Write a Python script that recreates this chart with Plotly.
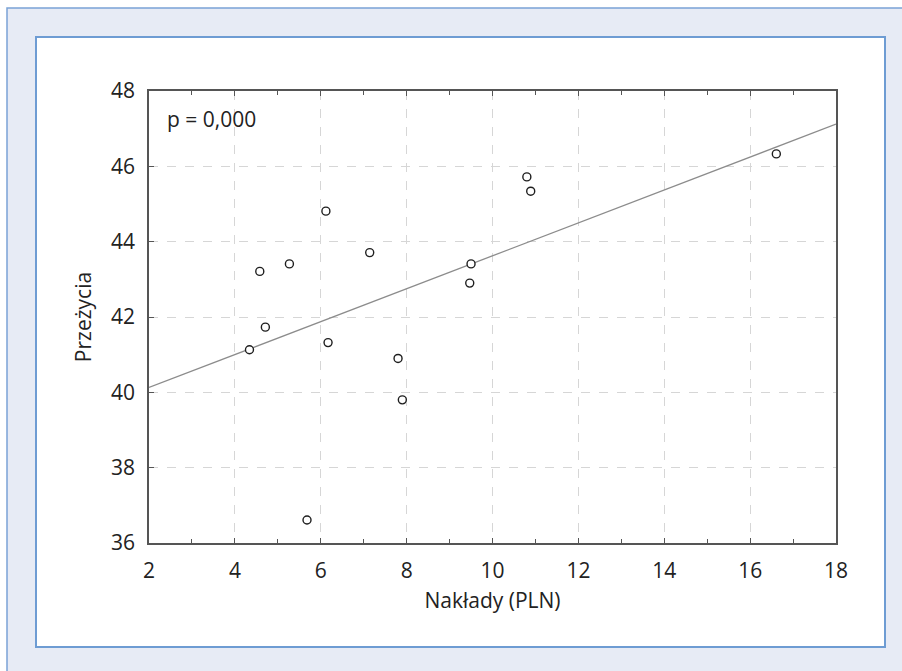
import plotly.graph_objects as go

# Data
naklady = [4.34, 4.58, 4.71, 5.27, 5.68, 6.12, 6.17, 7.14, 7.80, 7.90, 9.47, 9.50, 10.80, 10.89, 16.61]
przezycia = [41.13, 43.21, 41.73, 43.41, 36.61, 44.81, 41.32, 43.71, 40.90, 39.80, 42.90, 43.41, 45.72, 45.34, 46.33]
fit_x = [2, 18]
fit_y = [40.13, 47.12]
x_ticks = [2, 4, 6, 8, 10, 12, 14, 16, 18]
y_ticks = [36, 38, 40, 42, 44, 46, 48]
annotation_text = "p = 0,000"

W, H = 902, 671
FONT = "Open Sans"
FS = 21

def px(x):
    return x / W

def py(y):
    return 1 - y / H

fig = go.Figure()
fig.add_trace(go.Scatter(x=fit_x, y=fit_y, mode="lines",
                         line=dict(color="#8c8c8c", width=1.3),
                         hoverinfo="skip", showlegend=False))
fig.add_trace(go.Scatter(x=naklady, y=przezycia, mode="markers",
                         marker=dict(symbol="circle", size=8, color="white",
                                     line=dict(color="#1e1e1e", width=1.4)),
                         showlegend=False))

axis_common = dict(showline=True, linecolor="#555555", linewidth=1.5,
                   showgrid=True, gridcolor="#d6d6d6", griddash="dash", gridwidth=1,
                   zeroline=False, ticks="inside", ticklen=5, tickcolor="#555555",
                   tickfont=dict(family=FONT, size=FS, color="#222222"),
                   ticklabelstandoff=8, automargin=False)

fig.update_layout(
    width=W, height=H,
    margin=dict(l=0, r=0, t=0, b=0, pad=0, autoexpand=False),
    paper_bgcolor="white", plot_bgcolor="white",
    font=dict(family=FONT, color="#222222"),
    xaxis=dict(domain=[px(149), px(836)], range=[2, 18], tickvals=x_ticks,
               mirror="ticks",
               minor=dict(ticks="inside", dtick=1, tick0=0, ticklen=4, tickcolor="#555555", showgrid=False),
               title=dict(text="Nakłady (PLN)", font=dict(family=FONT, size=FS, color="#222222"), standoff=10),
               **axis_common),
    yaxis=dict(domain=[py(543), py(91)], range=[36, 48], tickvals=y_ticks,
               mirror=True,
               title=dict(text="Przeżycia", font=dict(family=FONT, size=FS, color="#222222"), standoff=14),
               **axis_common),
    shapes=[
        dict(type="rect", xref="paper", yref="paper", x0=px(7), y0=py(8), x1=1.02, y1=-0.02,
             fillcolor="#E7EBF5", line=dict(color="#7BA3D6", width=1.5), layer="below"),
        dict(type="rect", xref="paper", yref="paper", x0=px(36), y0=py(37), x1=px(885), y1=py(647),
             fillcolor="white", line=dict(color="#6E9CD3", width=2), layer="below"),
    ],
    annotations=[
        dict(text=annotation_text, xref="paper", yref="paper", x=px(165), y=py(119),
             xanchor="left", yanchor="middle", showarrow=False,
             font=dict(family=FONT, size=FS, color="#222222")),
    ],
)

fig.write_html("out.html",
               config={"displayModeBar": False},
               post_script="document.body.style.margin='0';document.body.style.padding='0';"
                           "document.documentElement.style.margin='0';")
